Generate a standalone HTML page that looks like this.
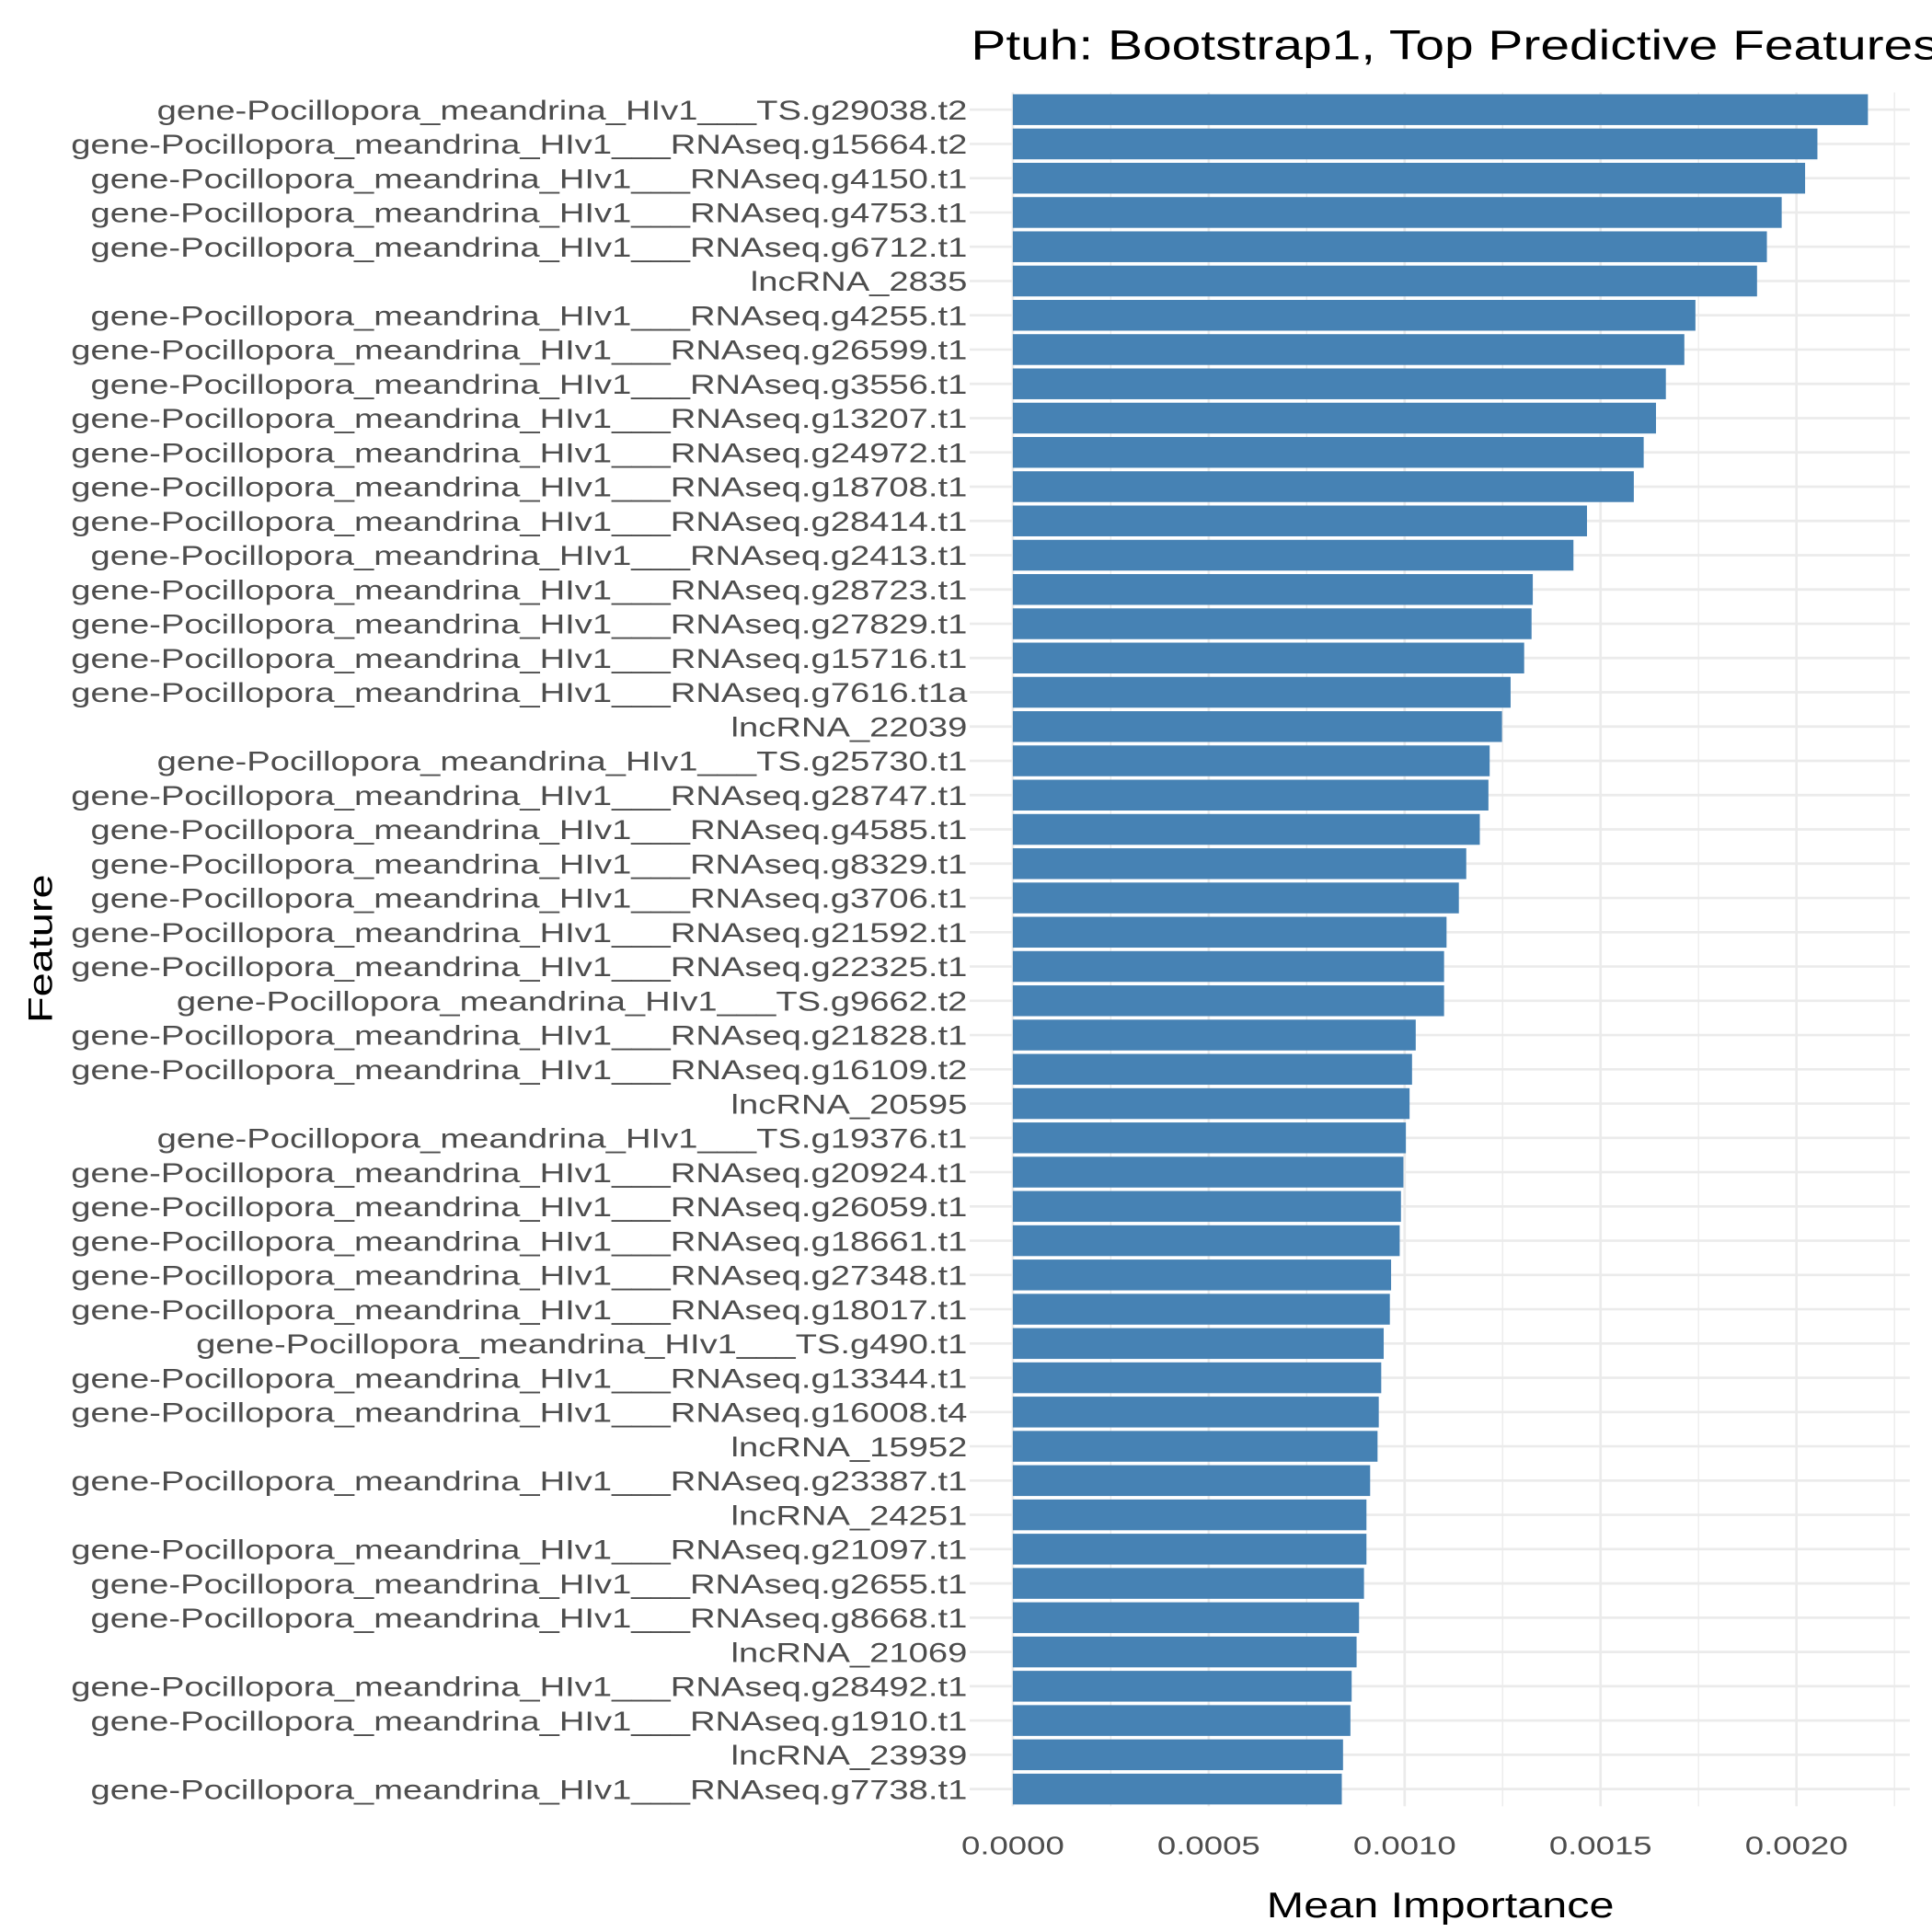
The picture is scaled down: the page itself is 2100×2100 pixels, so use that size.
<!DOCTYPE html>
<html><head><meta charset="utf-8"><style>html,body{margin:0;padding:0;background:#fff;overflow:hidden}svg{display:block}</style></head>
<body>
<svg xmlns="http://www.w3.org/2000/svg" width="2100" height="2100" viewBox="0 0 1568 1568" font-family="'Liberation Sans', sans-serif">
<rect width="1568" height="1568" fill="#fff"/>
<g stroke="#ebebeb" stroke-width="1">
<line x1="901.5" y1="75" x2="901.5" y2="1466"/><line x1="1060.5" y1="75" x2="1060.5" y2="1466"/><line x1="1219.5" y1="75" x2="1219.5" y2="1466"/><line x1="1378.5" y1="75" x2="1378.5" y2="1466"/><line x1="1537.5" y1="75" x2="1537.5" y2="1466"/>
</g>
<g stroke="#ebebeb" stroke-width="2">
<line x1="822" y1="75" x2="822" y2="1466"/><line x1="981" y1="75" x2="981" y2="1466"/><line x1="1140" y1="75" x2="1140" y2="1466"/><line x1="1299" y1="75" x2="1299" y2="1466"/><line x1="1458" y1="75" x2="1458" y2="1466"/>
</g>
<g id="hg" stroke="#ebebeb" stroke-width="2"></g>
<g id="bars" fill="#4682b4"></g>
<g transform="translate(785,0) scale(1.296,1)"><g id="labs" fill="#4d4d4d" font-size="22" text-anchor="end"></g></g>
<g fill="#4d4d4d" font-size="21" text-anchor="middle">
<text transform="translate(822,1505) scale(1.3,1)">0.0000</text><text transform="translate(981,1505) scale(1.3,1)">0.0005</text><text transform="translate(1140,1505) scale(1.3,1)">0.0010</text><text transform="translate(1299,1505) scale(1.3,1)">0.0015</text><text transform="translate(1458,1505) scale(1.3,1)">0.0020</text>
</g>
<text transform="translate(1169,1556) scale(1.25,1)" font-size="29" text-anchor="middle" fill="#000">Mean Importance</text>
<text transform="translate(42,770) rotate(-90) scale(1.25,1)" font-size="28" text-anchor="middle" fill="#000">Feature</text>
<text transform="translate(788,48) scale(1.25,1)" font-size="34" fill="#000">Ptuh: Bootstrap1, Top Predictive Features</text>
<script>
var d=[["gene-Pocillopora_meandrina_HIv1___TS.g29038.t2",1516],["gene-Pocillopora_meandrina_HIv1___RNAseq.g15664.t2",1475],["gene-Pocillopora_meandrina_HIv1___RNAseq.g4150.t1",1465],["gene-Pocillopora_meandrina_HIv1___RNAseq.g4753.t1",1446],["gene-Pocillopora_meandrina_HIv1___RNAseq.g6712.t1",1434],["lncRNA_2835",1426],["gene-Pocillopora_meandrina_HIv1___RNAseq.g4255.t1",1376],["gene-Pocillopora_meandrina_HIv1___RNAseq.g26599.t1",1367],["gene-Pocillopora_meandrina_HIv1___RNAseq.g3556.t1",1352],["gene-Pocillopora_meandrina_HIv1___RNAseq.g13207.t1",1344],["gene-Pocillopora_meandrina_HIv1___RNAseq.g24972.t1",1334],["gene-Pocillopora_meandrina_HIv1___RNAseq.g18708.t1",1326],["gene-Pocillopora_meandrina_HIv1___RNAseq.g28414.t1",1288],["gene-Pocillopora_meandrina_HIv1___RNAseq.g2413.t1",1277],["gene-Pocillopora_meandrina_HIv1___RNAseq.g28723.t1",1244],["gene-Pocillopora_meandrina_HIv1___RNAseq.g27829.t1",1243],["gene-Pocillopora_meandrina_HIv1___RNAseq.g15716.t1",1237],["gene-Pocillopora_meandrina_HIv1___RNAseq.g7616.t1a",1226],["lncRNA_22039",1219],["gene-Pocillopora_meandrina_HIv1___TS.g25730.t1",1209],["gene-Pocillopora_meandrina_HIv1___RNAseq.g28747.t1",1208],["gene-Pocillopora_meandrina_HIv1___RNAseq.g4585.t1",1201],["gene-Pocillopora_meandrina_HIv1___RNAseq.g8329.t1",1190],["gene-Pocillopora_meandrina_HIv1___RNAseq.g3706.t1",1184],["gene-Pocillopora_meandrina_HIv1___RNAseq.g21592.t1",1174],["gene-Pocillopora_meandrina_HIv1___RNAseq.g22325.t1",1172],["gene-Pocillopora_meandrina_HIv1___TS.g9662.t2",1172],["gene-Pocillopora_meandrina_HIv1___RNAseq.g21828.t1",1149],["gene-Pocillopora_meandrina_HIv1___RNAseq.g16109.t2",1146],["lncRNA_20595",1144],["gene-Pocillopora_meandrina_HIv1___TS.g19376.t1",1141],["gene-Pocillopora_meandrina_HIv1___RNAseq.g20924.t1",1139],["gene-Pocillopora_meandrina_HIv1___RNAseq.g26059.t1",1137],["gene-Pocillopora_meandrina_HIv1___RNAseq.g18661.t1",1136],["gene-Pocillopora_meandrina_HIv1___RNAseq.g27348.t1",1129],["gene-Pocillopora_meandrina_HIv1___RNAseq.g18017.t1",1128],["gene-Pocillopora_meandrina_HIv1___TS.g490.t1",1123],["gene-Pocillopora_meandrina_HIv1___RNAseq.g13344.t1",1121],["gene-Pocillopora_meandrina_HIv1___RNAseq.g16008.t4",1119],["lncRNA_15952",1118],["gene-Pocillopora_meandrina_HIv1___RNAseq.g23387.t1",1112],["lncRNA_24251",1109],["gene-Pocillopora_meandrina_HIv1___RNAseq.g21097.t1",1109],["gene-Pocillopora_meandrina_HIv1___RNAseq.g2655.t1",1107],["gene-Pocillopora_meandrina_HIv1___RNAseq.g8668.t1",1103],["lncRNA_21069",1101],["gene-Pocillopora_meandrina_HIv1___RNAseq.g28492.t1",1097],["gene-Pocillopora_meandrina_HIv1___RNAseq.g1910.t1",1096],["lncRNA_23939",1090],["gene-Pocillopora_meandrina_HIv1___RNAseq.g7738.t1",1089]];
var NS="http://www.w3.org/2000/svg",hg=document.getElementById("hg"),b=document.getElementById("bars"),l=document.getElementById("labs");
d.forEach(function(r,i){var y=89+i*27.816;
var ln=document.createElementNS(NS,"line");ln.setAttribute("x1",787);ln.setAttribute("x2",1550);ln.setAttribute("y1",y);ln.setAttribute("y2",y);hg.appendChild(ln);
var rc=document.createElementNS(NS,"rect");rc.setAttribute("x",822);rc.setAttribute("y",y-12.5);rc.setAttribute("width",r[1]-822);rc.setAttribute("height",25);b.appendChild(rc);
var t=document.createElementNS(NS,"text");t.setAttribute("x",0);t.setAttribute("y",y+8);t.textContent=r[0];l.appendChild(t);});
</script>
</svg>
</body></html>
